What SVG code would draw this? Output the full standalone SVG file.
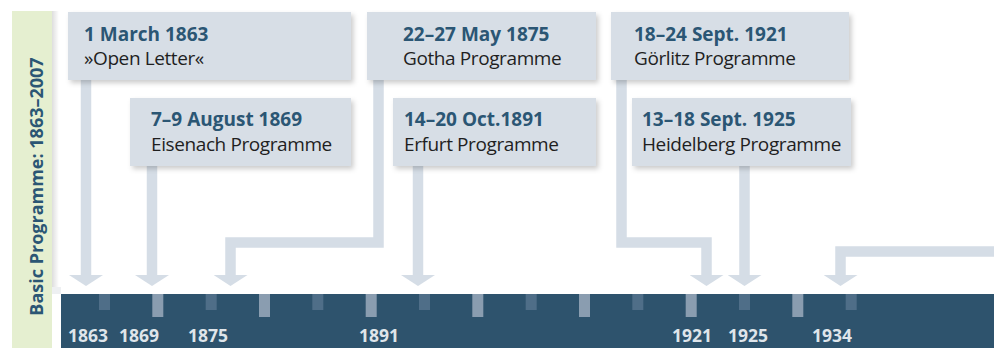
<svg xmlns="http://www.w3.org/2000/svg" width="994" height="348" viewBox="0 0 994 348">
  <defs>
    <filter id="boxShadow" x="-10%" y="-20%" width="125%" height="150%">
      <feDropShadow dx="2.5" dy="3" stdDeviation="2.5" flood-color="#000" flood-opacity="0.2"/>
    </filter>
    <linearGradient id="sideShade" x1="0" y1="0" x2="1" y2="0">
      <stop offset="0" stop-color="#000" stop-opacity="0.13"/>
      <stop offset="1" stop-color="#000" stop-opacity="0"/>
    </linearGradient>
    <marker id="head" markerUnits="userSpaceOnUse" markerWidth="11" markerHeight="34" viewBox="0 0 11 34" refX="0" refY="17" orient="auto">
      <path d="M0,0 L11,17 L0,34 Z" fill="#d5dde6"/>
    </marker>
    <style>
      .box { fill: #d7dee6; filter: url(#boxShadow); }
      .date { font-family: "Open Sans", "Liberation Sans", sans-serif; font-weight: 700; font-size: 19px; fill: #2b5674; }
      .name { font-family: "Open Sans", "Liberation Sans", sans-serif; font-size: 19px; letter-spacing: -0.4px; fill: #1f1f1f; }
      .link { fill: none; stroke: #d5dde6; stroke-width: 10.5; stroke-linejoin: miter; marker-end: url(#head); }
      .tickS { fill: #4f6e88; }
      .tickL { fill: #8a9db0; }
      .year { font-family: "Open Sans", "Liberation Sans", sans-serif; font-weight: 700; font-size: 17.5px; fill: #dfe5ea; text-anchor: middle; }
    </style>
  </defs>

  <rect width="994" height="348" fill="#ffffff"/>

  <!-- side band with title -->
  <g id="side-title">
    <rect x="52" y="11" width="7" height="279" fill="url(#sideShade)"/>
    <rect x="52" y="287" width="9" height="7" fill="#eef0f2"/>
    <rect x="12" y="11" width="40" height="337" fill="#e5efd0"/>
    <text transform="translate(43,186.5) rotate(-90)" text-anchor="middle" font-family="'Open Sans', 'Liberation Sans', sans-serif" font-weight="700" font-size="18" fill="#2b5674">Basic Programme: 1863–2007</text>
  </g>

  <!-- timeline bar -->
  <g id="timeline">
    <rect x="61" y="294" width="933" height="54" fill="#2e536d"/>
    <rect x="99" y="294" width="11" height="16" class="tickS"/>
    <rect x="152.3" y="294" width="11" height="23" class="tickL"/>
    <rect x="205.7" y="294" width="11" height="16" class="tickS"/>
    <rect x="259" y="294" width="11" height="23" class="tickL"/>
    <rect x="312.3" y="294" width="11" height="16" class="tickS"/>
    <rect x="365.7" y="294" width="11" height="23" class="tickL"/>
    <rect x="419" y="294" width="11" height="16" class="tickS"/>
    <rect x="472.3" y="294" width="11" height="23" class="tickL"/>
    <rect x="525.7" y="294" width="11" height="16" class="tickS"/>
    <rect x="579" y="294" width="11" height="23" class="tickL"/>
    <rect x="632.3" y="294" width="11" height="16" class="tickS"/>
    <rect x="685.7" y="294" width="11" height="23" class="tickL"/>
    <rect x="739" y="294" width="11" height="16" class="tickS"/>
    <rect x="792.3" y="294" width="11" height="23" class="tickL"/>
    <rect x="845.7" y="294" width="11" height="16" class="tickS"/>
    <text class="year" x="88" y="342">1863</text>
    <text class="year" x="139" y="342">1869</text>
    <text class="year" x="208" y="342">1875</text>
    <text class="year" x="379" y="342">1891</text>
    <text class="year" x="692" y="342">1921</text>
    <text class="year" x="748" y="342">1925</text>
    <text class="year" x="832" y="342" font-size="20">1934</text>
  </g>

  <!-- connectors from programmes to the timeline -->
  <g id="connectors">
    <path class="link" d="M86,80 V275"/>
    <path class="link" d="M152,166 V275"/>
    <path class="link" d="M378.5,80 V242.5 H230.5 V275"/>
    <path class="link" d="M418,166 V275"/>
    <path class="link" d="M621.5,80 V242.5 H706.5 V275"/>
    <path class="link" d="M744.5,166 V275"/>
    <path class="link" d="M994,251.5 H840.5 V275"/>
  </g>

  <g id="open-letter">
    <rect class="box" x="68" y="12" width="283" height="68"/>
    <text class="date" x="84" y="41">1 March 1863</text>
    <text class="name" x="84" y="65">»Open Letter«</text>
  </g>
  <g id="eisenach">
    <rect class="box" x="130" y="98" width="221" height="68"/>
    <text class="date" x="151" y="126">7–9 August 1869</text>
    <text class="name" x="151" y="151">Eisenach Programme</text>
  </g>
  <g id="gotha">
    <rect class="box" x="367" y="12" width="229" height="68"/>
    <text class="date" x="403" y="41">22–27 May 1875</text>
    <text class="name" x="403" y="65">Gotha Programme</text>
  </g>
  <g id="erfurt">
    <rect class="box" x="393" y="98" width="203" height="68"/>
    <text class="date" x="404" y="126">14–20 Oct.1891</text>
    <text class="name" x="404" y="151">Erfurt Programme</text>
  </g>
  <g id="goerlitz">
    <rect class="box" x="611" y="12" width="238" height="68"/>
    <text class="date" x="634" y="41">18–24 Sept. 1921</text>
    <text class="name" x="634" y="65">Görlitz Programme</text>
  </g>
  <g id="heidelberg">
    <rect class="box" x="632" y="98" width="219" height="68"/>
    <text class="date" x="642" y="126">13–18 Sept. 1925</text>
    <text class="name" x="642" y="151">Heidelberg Programme</text>
  </g>
</svg>
